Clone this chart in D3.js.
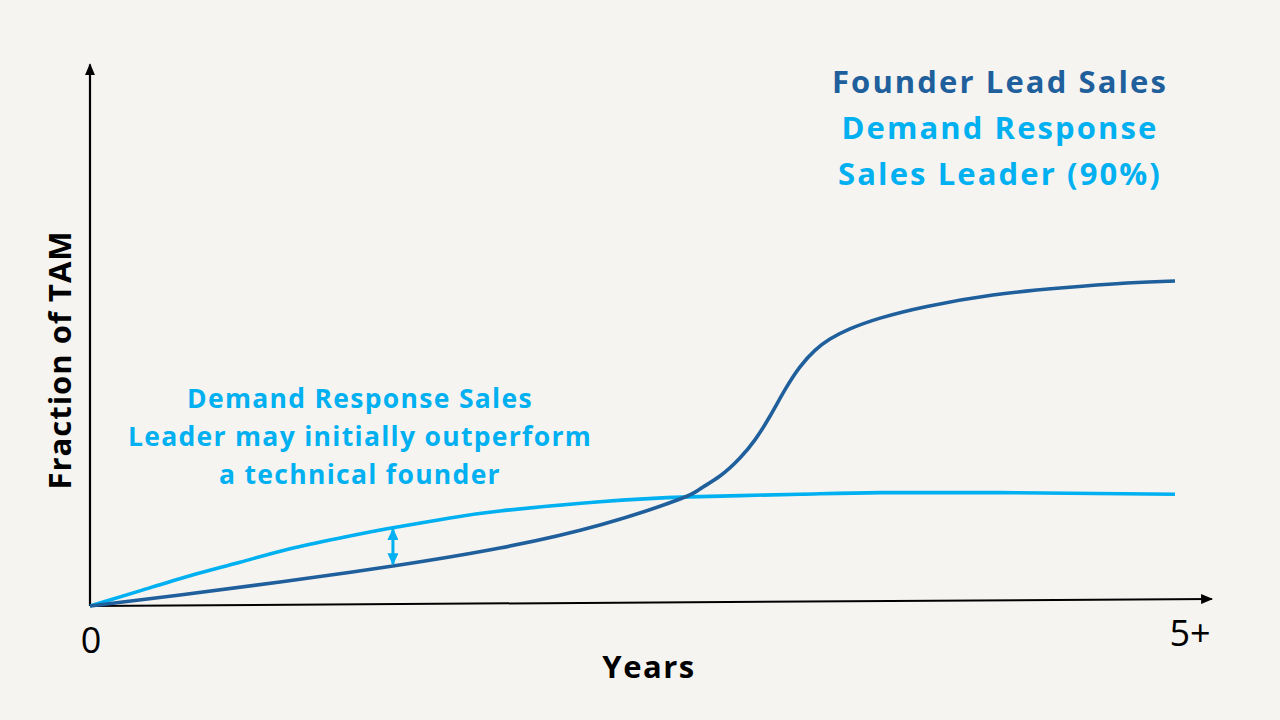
<!DOCTYPE html>
<html>
<head>
<meta charset="utf-8">
<script src="https://cdn.jsdelivr.net/npm/d3@7"></script>
<style>
  html, body { margin: 0; padding: 0; background: #f5f4f1; }
  svg { display: block; }
  text { font-family: "Open Sans", "Noto Sans", sans-serif; }
</style>
</head>
<body>
<svg id="chart" width="1280" height="720"></svg>
<script>
// ---- data ----
const years = [0, 0.415, 0.876, 1.396, 1.889, 2.350, 2.719, 2.811, 2.903, 2.995, 3.065, 3.134, 3.203, 3.272, 3.341, 3.410, 3.502, 3.641, 3.857, 4.161, 4.470, 4.779, 5.0];
const founderLead = [0, 0.0204, 0.0444, 0.0741, 0.1074, 0.1500, 0.1981, 0.2167, 0.2407, 0.2741, 0.3081, 0.3519, 0.4006, 0.4428, 0.4733, 0.4943, 0.5131, 0.5331, 0.5548, 0.5759, 0.5889, 0.5981, 0.6019];
const drYears = [0, 0.230, 0.461, 0.691, 0.922, 1.152, 1.382, 1.659, 1.889, 2.350, 2.765, 3.272, 3.641, 4.194, 5.0];
const demandResponse = [0, 0.028, 0.056, 0.081, 0.106, 0.126, 0.144, 0.163, 0.176, 0.193, 0.202, 0.207, 0.210, 0.210, 0.207];
const xTickLabels = ["0", "5+"];
const xTickValues = [0, 5];
const legendLines = ["Founder Lead Sales", "Demand Response", "Sales Leader (90%)"];
const annotationLines = ["Demand Response Sales", "Leader may initially outperform", "a technical founder"];
const gapYear = 1.396; // year of the double arrow
const gapTop = 0.146, gapBot = 0.074;

const darkBlue = "#1f5f9c";
const lightBlue = "#00b0f0";

const svg = d3.select("#chart");
svg.append("rect").attr("width", 1280).attr("height", 720).attr("fill", "#f5f4f1");

const x = d3.scaleLinear().domain([0, 5]).range([90, 1175]);
const y = d3.scaleLinear().domain([0, 1]).range([606, 66]);

const defs = svg.append("defs");
function marker(id, color, w, h) {
  defs.append("marker").attr("id", id)
    .attr("viewBox", "0 0 10 10").attr("refX", 9).attr("refY", 5)
    .attr("markerWidth", w).attr("markerHeight", h)
    .attr("markerUnits", "userSpaceOnUse")
    .attr("preserveAspectRatio", "none")
    .attr("orient", "auto-start-reverse")
    .append("path").attr("d", "M0,0 L10,5 L0,10 Z").attr("fill", color);
}
marker("arrowBlack", "#000", 12, 10);
marker("arrowBlue", lightBlue, 12, 11);

// axes
svg.append("line")
  .attr("x1", x(0)).attr("y1", y(0))
  .attr("x2", x(0)).attr("y2", y(1.003))
  .attr("stroke", "#000").attr("stroke-width", 2.2)
  .attr("marker-end", "url(#arrowBlack)");
svg.append("line")
  .attr("x1", x(0)).attr("y1", y(0))
  .attr("x2", x(5.17)).attr("y2", y(0.013))
  .attr("stroke", "#000").attr("stroke-width", 2)
  .attr("marker-end", "url(#arrowBlack)");

// curves
const line = d3.line().x(d => x(d[0])).y(d => y(d[1])).curve(d3.curveNatural);
svg.append("path")
  .datum(drYears.map((v, i) => [v, demandResponse[i]]))
  .attr("d", line).attr("fill", "none")
  .attr("stroke", lightBlue).attr("stroke-width", 3.6);
svg.append("path")
  .datum(years.map((v, i) => [v, founderLead[i]]))
  .attr("d", line).attr("fill", "none")
  .attr("stroke", darkBlue).attr("stroke-width", 3.6);

// double arrow
svg.append("line")
  .attr("x1", x(gapYear)).attr("y1", y(gapTop) + 2)
  .attr("x2", x(gapYear)).attr("y2", y(gapBot) - 2)
  .attr("stroke", lightBlue).attr("stroke-width", 3)
  .attr("marker-start", "url(#arrowBlue)")
  .attr("marker-end", "url(#arrowBlue)");

// tick labels
svg.selectAll("text.tick").data(xTickValues).join("text")
  .attr("class", "tick")
  .attr("x", (d, i) => i === 0 ? x(d) + 1 : x(d) + 15)
  .attr("y", (d, i) => i === 0 ? 653 : 646)
  .attr("text-anchor", "middle")
  .attr("font-size", 36).attr("fill", "#000")
  .text((d, i) => xTickLabels[i]);

// axis titles
svg.append("text").attr("x", 649).attr("y", 678)
  .attr("text-anchor", "middle").attr("font-size", 31).attr("font-weight", 700)
  .attr("letter-spacing", 1.5)
  .text("Years");
svg.append("text")
  .attr("transform", "translate(71,360) rotate(-90)")
  .attr("text-anchor", "middle").attr("font-size", 31).attr("font-weight", 700)
  .attr("letter-spacing", 1)
  .text("Fraction of TAM");

// legend text
svg.selectAll("text.legend").data(legendLines).join("text")
  .attr("class", "legend")
  .attr("x", 1000).attr("y", (d, i) => 93 + i * 46)
  .attr("text-anchor", "middle").attr("font-size", 31).attr("font-weight", 700)
  .attr("letter-spacing", 2.1)
  .attr("fill", (d, i) => i === 0 ? darkBlue : lightBlue)
  .text(d => d);

// annotation
svg.selectAll("text.annot").data(annotationLines).join("text")
  .attr("class", "annot")
  .attr("x", 360).attr("y", (d, i) => 408 + i * 38)
  .attr("text-anchor", "middle").attr("font-size", 26.5).attr("font-weight", 700)
  .attr("letter-spacing", 1.3)
  .attr("fill", lightBlue)
  .text(d => d);
</script>
</body>
</html>
